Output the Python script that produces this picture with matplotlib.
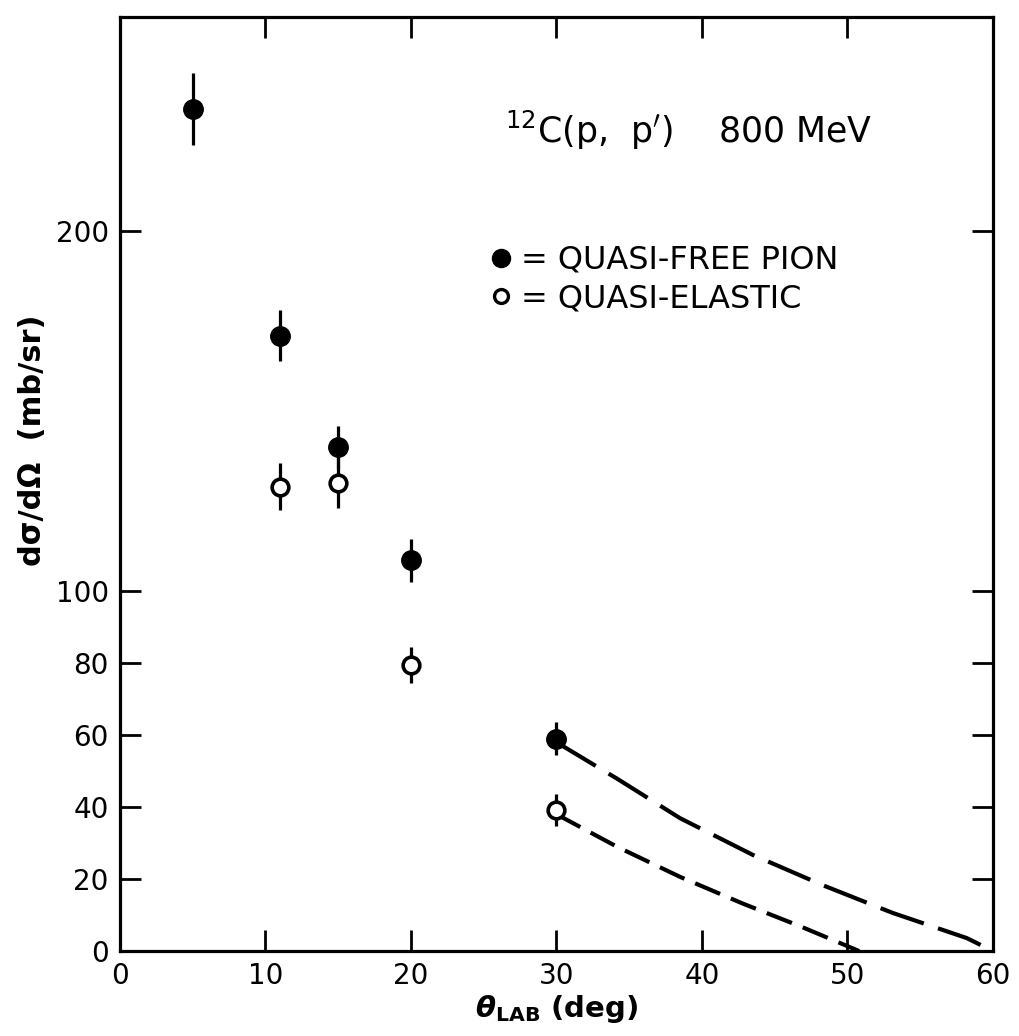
import numpy as np
import matplotlib
matplotlib.use("Agg")
import matplotlib.pyplot as plt
from matplotlib.lines import Line2D

# quasi-free pion points (filled)
pion_theta = [5, 11, 15, 20, 30]
pion_xs = [234, 171, 140, 108.6, 59]
pion_err = [10, 7, 6, 6, 4.5]

# quasi-elastic points (open)
qe_theta = [11, 15, 20, 30]
qe_xs = [129, 130, 79.5, 39.2]
qe_err = [6.5, 7, 5, 4.5]

# dashed extrapolation curves
pion_curve_x = [30, 34.2, 38.5, 43.5, 48.3, 53.1, 58.2, 60]
pion_curve_y = [58, 47.8, 36.9, 26.7, 18.3, 10.6, 3.6, 0]
qe_curve_x = [30, 34.2, 38.5, 42.8, 46.8, 50.8]
qe_curve_y = [38, 28.9, 20.6, 13.2, 6.8, 0]

xticks = [0, 10, 20, 30, 40, 50, 60]
yticks = [0, 20, 40, 60, 80, 100, 200]

plt.rcParams['font.family'] = ['DejaVu Sans']
plt.rcParams['mathtext.fontset'] = 'dejavusans'

fig = plt.figure(figsize=(10.2, 10.36), dpi=100)
ax = fig.add_axes([0.1176, 0.082, 0.8559, 0.9016])

ax.plot(pion_curve_x, pion_curve_y, color='black', lw=3, ls=(0, (11, 3.6)),
        dash_capstyle='butt')
ax.plot(qe_curve_x, qe_curve_y, color='black', lw=3, ls=(0, (6.5, 2.8)),
        dash_capstyle='butt')

ax.errorbar(pion_theta, pion_xs, yerr=pion_err, fmt='o', color='black',
            ms=14, elinewidth=2.3, capsize=0, zorder=3)
ax.errorbar(qe_theta, qe_xs, yerr=qe_err, fmt='o', color='black', mfc='white',
            mec='black', mew=2.6, ms=12, elinewidth=2.3, capsize=0, zorder=3)

ax.set_xlim(0, 60)
ax.set_ylim(0, 259.5)
ax.set_xticks(xticks)
ax.set_yticks(yticks)
ax.tick_params(direction='in', length=15, width=2, labelsize=20,
               top=True, right=True, pad=8)
for s in ax.spines.values():
    s.set_linewidth(2.3)

ax.set_ylabel('dσ/dΩ  (mb/sr)', fontsize=22, fontweight='bold')
ax.yaxis.set_label_coords(-0.083, 0.547)
ax.set_xlabel(r'$\mathbfit{\theta}_{\mathbf{LAB}}$ (deg)', fontsize=21,
              fontweight='bold', labelpad=2)

ax.text(0.441, 0.879, r"$^{12}$C(p,  p$'$)    800 MeV", transform=ax.transAxes,
        fontsize=25, va='center', ha='left')

handles = [
    Line2D([], [], ls='none', marker='o', color='black', ms=13),
    Line2D([], [], ls='none', marker='o', color='black', mfc='white', mew=2.4, ms=10),
]
ax.legend(handles, ['= QUASI-FREE PION', '= QUASI-ELASTIC'], frameon=False,
          fontsize=23, loc='upper left', bbox_to_anchor=(0.405, 0.773),
          handlelength=0.7, handletextpad=0.3, labelspacing=0.22, borderpad=0)

fig.savefig('out.png', dpi=100)
